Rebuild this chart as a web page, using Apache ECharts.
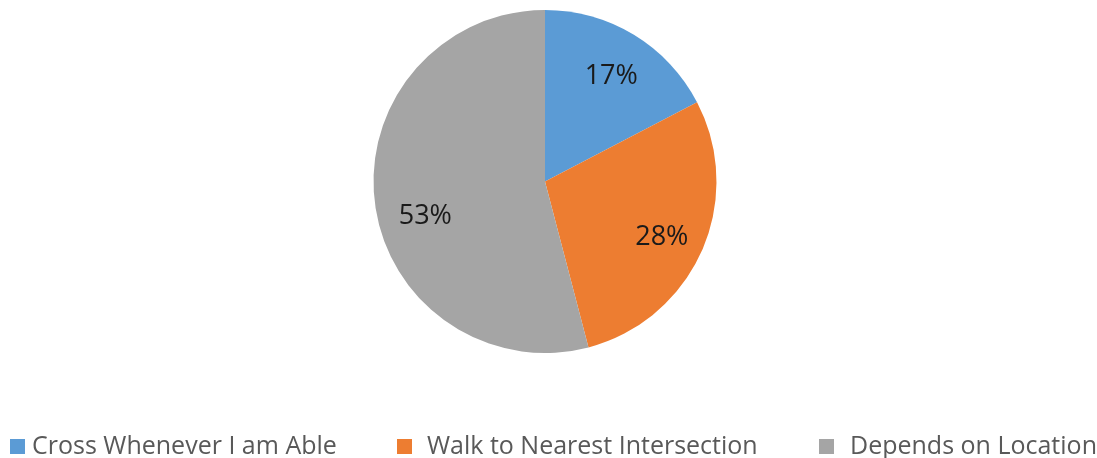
<!DOCTYPE html>
<html>
<head>
<meta charset="utf-8">
<script src="https://cdn.jsdelivr.net/npm/echarts@6/dist/echarts.min.js"></script>
<style>
  html, body { margin: 0; padding: 0; background: #fff; }
  #chart { width: 1097px; height: 458px; }
</style>
</head>
<body>
<div id="chart"></div>
<script>
  // answer categories and their shares (%)
  var categories = ['Cross Whenever I am Able', 'Walk to Nearest Intersection', 'Depends on Location'];
  var shares = [17, 28, 53];
  var colors = ['#5B9BD5', '#ED7D31', '#A5A5A5'];
  var labelOffsets = [[0, 4], [0, 4], [7, 18]];

  var pieData = categories.map(function (name, i) {
    return {name: name, value: shares[i], itemStyle: {color: colors[i]}};
  });

  var chart = echarts.init(document.getElementById('chart'));

  function legendFor(i, left, pad) {
    return {
      data: [categories[i]],
      left: left,
      top: 434,
      padding: 0,
      icon: 'rect',
      itemWidth: 15,
      itemHeight: 15,
      selectedMode: false,
      textStyle: {
        fontFamily: 'Open Sans',
        fontSize: 25,
        color: '#595959',
        padding: [0, 0, 0, pad]
      }
    };
  }

  chart.setOption({
    animation: false,
    legend: [
      legendFor(0, 10, 2),
      legendFor(1, 397, 10),
      legendFor(2, 819, 11)
    ],
    series: [
      {
        type: 'pie',
        center: [545, 181.5],
        radius: 171.5,
        startAngle: 90,
        clockwise: true,
        label: {show: false},
        labelLine: {show: false},
        itemStyle: {borderWidth: 0},
        emphasis: {disabled: true},
        data: pieData
      },
      {
        // transparent ring, only to place the percentage labels
        type: 'pie',
        center: [545, 181.5],
        radius: [78, 171.5],
        startAngle: 90,
        clockwise: true,
        silent: true,
        itemStyle: {color: 'rgba(0,0,0,0)', borderWidth: 0},
        label: {
          show: true,
          position: 'inside',
          formatter: '{c}%',
          fontFamily: 'Open Sans',
          fontSize: 27,
          color: '#1a1a1a'
        },
        labelLine: {show: false},
        emphasis: {disabled: true},
        data: shares.map(function (v, i) {
          return {name: categories[i] + ' ', value: v, label: {offset: labelOffsets[i]}};
        })
      }
    ]
  });
</script>
</body>
</html>
